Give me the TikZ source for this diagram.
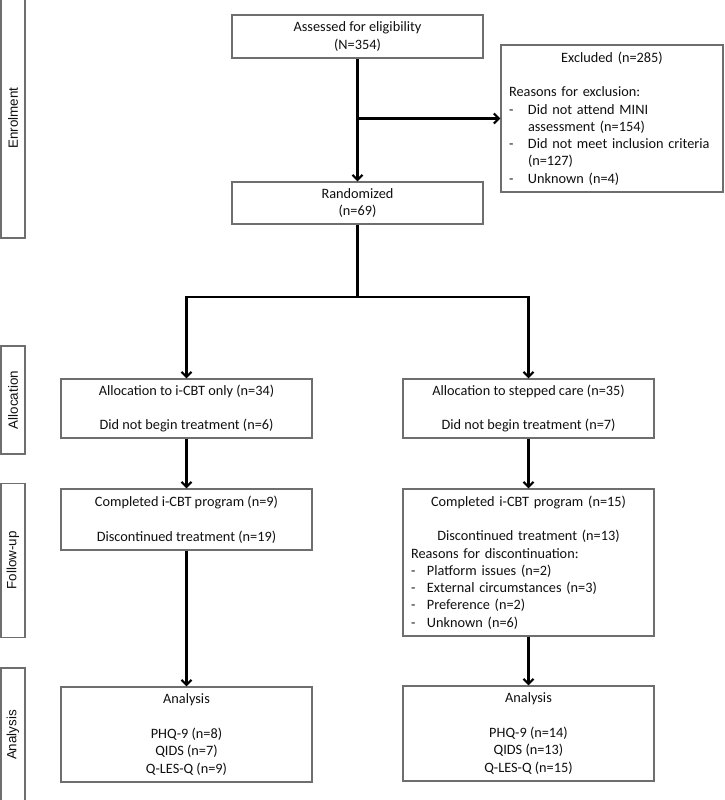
\documentclass[tikz,border=0pt]{standalone}
\usepackage{fontspec}
\usetikzlibrary{arrows.meta}
\newfontfamily\calfont{Carlito}
\newfontfamily\sidefont{Liberation Sans}
\definecolor{boxgray}{RGB}{110,110,110}
\definecolor{txt}{RGB}{15,15,15}
\begin{document}
\begin{tikzpicture}[x=1pt,y=-1pt,
  box/.style={draw=boxgray,line width=1.1pt,inner sep=0pt,text=txt,
    font=\calfont\fontsize{14.3}{17.3}\selectfont,align=center,
    minimum width=251pt},
  sidebox/.style={draw=boxgray,line width=1.1pt,inner sep=0pt,rotate=90,
    minimum height=24pt,text=txt,font=\sidefont\fontsize{13.4}{15}\selectfont},
  conn/.style={line width=2.2pt,black},
  arr/.style={conn,-{Straight Barb[length=5pt,width=10pt]}}]
\useasboundingbox (0,0) rectangle (724,800);

% side labels
\node[sidebox,minimum width=240pt] (sideE) at (13,118) {Enrolment};
\node[sidebox,minimum width=108pt] (sideA) at (13,400) {Allocation};
\node[sidebox,minimum width=154pt] (sideF) at (13,560.5) {Follow-up};
\node[sidebox,minimum width=134pt] (sideN) at (13,735) {Analysis};

% main boxes
\node[box,minimum height=43pt] (assess) at (357.5,36.5)
  {Assessed for eligibility\\(N=354)};
\node[box,minimum width=222pt,minimum height=147pt,text width=206pt,
  align=left,inner xsep=8pt] (excl) at (612,118.5)
  {\makebox[206pt]{Excluded (n=285)}\\[17.3pt]
   Reasons for exclusion:\\
   \makebox[19pt][l]{-}Did not attend MINI\\
   \hspace*{19pt}assessment (n=154)\\
   \makebox[19pt][l]{-}Did not meet inclusion criteria\\
   \hspace*{19pt}(n=127)\\
   \makebox[19pt][l]{-}Unknown (n=4)};
\node[box,minimum height=42pt] (rand) at (357.5,203)
  {Randomized\\(n=69)};
\coordinate (split) at (357.5,297);

\node[box,minimum height=59pt] (allocL) at (186.5,408.5)
  {Allocation to i-CBT only (n=34)\\[17.3pt]Did not begin treatment (n=6)};
\node[box,minimum height=59pt] (allocR) at (528.5,408.5)
  {Allocation to stepped care (n=35)\\[17.3pt]Did not begin treatment (n=7)};

\node[box,minimum height=61pt] (compL) at (186.5,519.5)
  {Completed i-CBT program (n=9)\\[17.3pt]Discontinued treatment (n=19)};
\node[box,minimum height=147pt,text width=235pt,align=left,inner xsep=8pt]
  (compR) at (528.5,562.5)
  {\makebox[235pt]{Completed i-CBT program (n=15)}\\[17.3pt]
   \makebox[235pt]{Discontinued treatment (n=13)}\\
   Reasons for discontinuation:\\
   \makebox[16pt][l]{-}Platform issues (n=2)\\
   \makebox[16pt][l]{-}External circumstances (n=3)\\
   \makebox[16pt][l]{-}Preference (n=2)\\
   \makebox[16pt][l]{-}Unknown (n=6)};

\node[box,minimum height=95pt] (anaL) at (186.5,734.5)
  {Analysis\\[17.3pt]PHQ-9 (n=8)\\QIDS (n=7)\\Q-LES-Q (n=9)};
\node[box,minimum height=95pt] (anaR) at (528.5,733.5)
  {Analysis\\[17.3pt]PHQ-9 (n=14)\\QIDS (n=13)\\Q-LES-Q (n=15)};

% connectors
\draw[arr] (assess.south) -- (rand.north);
\draw[arr] (assess.south |- excl.west) -- (excl.west);
\draw[conn] (rand.south) -- (split);
\draw[arr] (split) -| (allocL.north);
\draw[arr] (split) -| (allocR.north);
\draw[arr] (allocL.south) -- (compL.north);
\draw[arr] (allocR.south) -- (compR.north);
\draw[arr] (compL.south) -- (anaL.north);
\draw[arr] (compR.south) -- (anaR.north);
\end{tikzpicture}
\end{document}
